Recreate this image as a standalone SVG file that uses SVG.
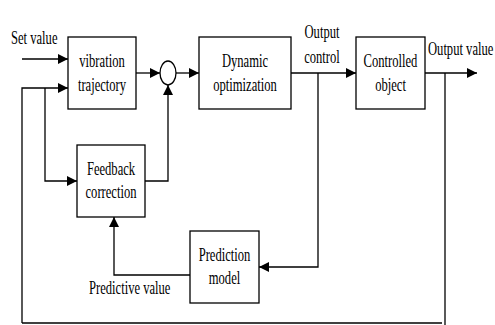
<svg xmlns="http://www.w3.org/2000/svg" width="495" height="325" viewBox="0 0 495 325">
<defs>
<marker id="ah" viewBox="0 0 10 10" refX="10" refY="5" markerWidth="10" markerHeight="10" markerUnits="userSpaceOnUse" orient="auto">
<path d="M0,0 L10,5 L0,10 Z" fill="#000"/>
</marker>
</defs>
<style>
.box{fill:#fff;stroke:#000;stroke-width:1.3}
.ln{fill:none;stroke:#000;stroke-width:1.3}
.arr{fill:none;stroke:#000;stroke-width:1.3;marker-end:url(#ah)}
text{font-family:"Liberation Serif","Times New Roman",serif;font-size:18px;fill:#000}
.c{text-anchor:middle}
</style>
<rect width="495" height="325" fill="#fff"/>
<g id="connectors">
<line class="arr" x1="22" y1="59" x2="68" y2="59"/>
<polyline class="arr" points="22,323 22,88 68,88"/>
<polyline class="arr" points="45,88 45,181 77,181"/>
<line class="arr" x1="136" y1="73" x2="160" y2="73"/>
<line class="arr" x1="176" y1="73" x2="199" y2="73"/>
<polyline class="arr" points="145,181 168,181 168,85"/>
<line class="arr" x1="291" y1="73" x2="356" y2="73"/>
<polyline class="arr" points="318,73 318,267 259,267"/>
<polyline class="arr" points="190,275 114,275 114,217"/>
<line class="arr" x1="425" y1="73" x2="477" y2="73"/>
<line class="ln" x1="445" y1="73" x2="445" y2="325"/>
<line class="ln" x1="22" y1="323" x2="442" y2="323"/>
</g>
<g id="set-value-label"><text transform="translate(11,44) scale(0.7,1)">Set value</text></g>
<g id="vibration-trajectory">
<rect class="box" x="68" y="37" width="68" height="72"/>
<text class="c" transform="translate(102,67) scale(0.7,1)">vibration</text>
<text class="c" transform="translate(102,91) scale(0.7,1)">trajectory</text>
</g>
<g id="sum"><ellipse class="box" cx="168" cy="73" rx="8" ry="12"/></g>
<g id="dynamic-optimization">
<rect class="box" x="199" y="37" width="92" height="72"/>
<text class="c" transform="translate(245,67) scale(0.7,1)">Dynamic</text>
<text class="c" transform="translate(245,91) scale(0.7,1)">optimization</text>
</g>
<g id="output-control-label">
<text class="c" transform="translate(322,38) scale(0.7,1)">Output</text>
<text class="c" transform="translate(322,63) scale(0.7,1)">control</text>
</g>
<g id="controlled-object">
<rect class="box" x="356" y="37" width="69" height="72"/>
<text class="c" transform="translate(390.5,67) scale(0.7,1)">Controlled</text>
<text class="c" transform="translate(390.5,91) scale(0.7,1)">object</text>
</g>
<g id="output-value-label"><text transform="translate(428,55) scale(0.7,1)">Output value</text></g>
<g id="feedback-correction">
<rect class="box" x="77" y="145" width="68" height="72"/>
<text class="c" transform="translate(111,175) scale(0.7,1)">Feedback</text>
<text class="c" transform="translate(111,198) scale(0.7,1)">correction</text>
</g>
<g id="prediction-model">
<rect class="box" x="190" y="231" width="69" height="72"/>
<text class="c" transform="translate(224.5,261) scale(0.7,1)">Prediction</text>
<text class="c" transform="translate(224.5,284) scale(0.7,1)">model</text>
</g>
<g id="predictive-value-label"><text transform="translate(89,294) scale(0.7,1)">Predictive value</text></g>
</svg>
